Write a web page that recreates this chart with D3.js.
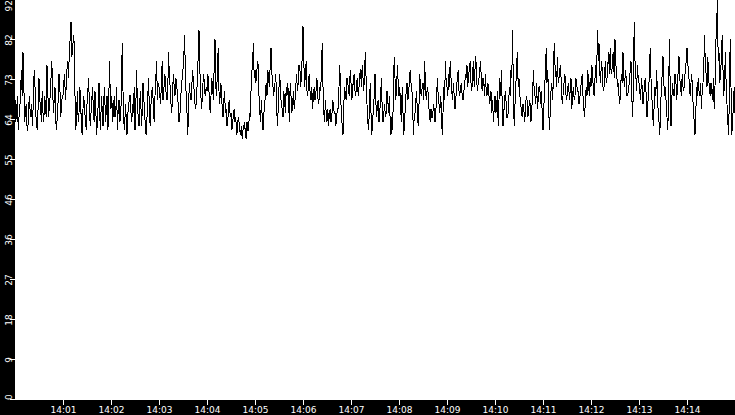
<!DOCTYPE html>
<html>
<head>
<meta charset="utf-8">
<script src="https://cdn.jsdelivr.net/npm/d3@7"></script>
<style>
  html, body { margin: 0; padding: 0; background: #fff; }
  svg { display: block; }
  text { font-family: "DejaVu Sans", sans-serif; font-size: 9px; fill: #fff; }
</style>
</head>
<body>
<script>
const width = 735;
const height = 415;
const margin = { left: 15, bottom: 15 };

// one sample per second, starting 14:00:00
const startTime = new Date(2020, 0, 1, 14, 0, 0);
const stepSeconds = 1;

const values = [
    // 14:00
    69,64,66,70,62,65,67,71,76,70,80,73,64,66,68,63,62,67,70,66,65,68,63,70,76,72,66,63,62,68,
    74,69,67,64,71,66,64,70,68,65,77,71,65,68,70,74,78,72,66,69,72,64,62,66,69,75,73,65,67,70,
    // 14:01
    70,73,75,69,72,76,78,74,81,83,87,79,80,84,82,70,62,66,71,64,66,72,69,63,61,67,70,66,65,62,
    68,71,74,68,63,66,69,72,66,64,71,67,61,64,68,73,65,62,70,67,63,69,72,64,66,70,62,65,78,71,
    // 14:02
    67,70,64,66,70,65,66,72,62,67,69,64,65,70,82,71,64,62,68,65,61,66,67,70,70,66,64,68,66,72,
    62,67,76,68,65,63,69,71,63,66,73,69,67,62,61,65,70,74,66,63,68,71,72,67,64,70,74,78,69,73,
    // 14:03
    72,70,68,73,78,69,71,75,74,70,69,72,80,74,72,68,66,71,75,72,70,74,73,70,68,64,65,69,72,74,
    76,79,84,75,70,66,61,68,73,70,69,72,76,73,71,68,67,70,74,79,85,76,72,67,69,73,75,71,70,72,
    // 14:04
    71,75,73,69,66,70,74,72,69,77,83,72,70,76,81,71,68,73,72,67,65,69,71,66,67,63,64,68,69,65,
    66,62,63,66,67,64,65,61,62,65,64,62,61,63,60,62,63,64,61,60,64,62,62,66,65,71,75,78,82,74,
    // 14:05
    76,73,74,78,77,70,66,64,69,65,62,66,67,71,73,70,76,74,72,77,81,75,74,70,71,73,75,68,63,67,
    72,75,70,68,67,65,71,69,66,72,70,73,68,64,73,70,66,68,71,67,69,72,75,71,73,77,77,72,74,79,
    // 14:06
    86,78,72,75,78,71,70,74,75,70,69,72,67,70,72,69,70,74,73,68,69,72,71,75,82,72,66,64,69,66,
    64,67,63,66,67,64,65,69,68,66,66,63,65,67,67,72,77,70,66,63,61,68,72,70,69,74,73,71,70,76,
    // 14:07
    73,69,71,74,75,71,70,73,74,70,72,75,76,72,77,74,71,76,80,73,68,64,62,67,73,66,61,64,67,70,
    75,69,65,68,69,64,66,70,74,67,64,66,68,65,66,71,69,66,70,64,61,65,62,70,79,74,69,72,77,73,
    // 14:08
    70,72,67,64,72,66,61,64,68,71,73,69,70,74,76,73,72,68,61,65,66,69,71,66,63,68,75,71,70,72,
    73,69,78,73,69,71,72,68,66,64,67,65,65,68,67,64,66,70,74,70,68,66,70,67,61,66,72,69,78,73,
    // 14:09
    72,70,75,72,78,74,71,69,73,70,67,69,72,74,76,71,70,72,73,70,69,71,72,75,74,77,72,75,76,78,
    73,71,75,78,72,76,79,74,71,73,74,76,78,73,71,74,73,70,75,71,70,73,72,68,69,71,66,69,64,67,
    // 14:10
    70,66,67,71,63,69,74,70,76,68,63,66,69,71,68,65,65,68,72,70,76,74,85,70,63,68,72,77,80,72,
    74,70,69,66,65,68,67,64,66,70,69,65,66,69,68,64,67,70,76,71,70,68,73,67,69,72,72,68,71,66,
    // 14:11
    62,67,72,75,81,73,76,68,62,66,71,73,69,74,82,77,75,72,79,73,74,76,77,72,68,70,72,75,74,69,
    70,72,73,69,71,74,67,70,72,69,70,74,73,71,71,68,69,72,73,75,70,67,65,69,72,70,76,72,70,74,
    // 14:12
    72,77,75,71,70,74,77,73,85,78,82,75,73,78,76,72,71,75,78,73,74,77,80,75,81,76,75,79,80,74,
    83,77,76,72,73,70,68,72,75,73,80,74,72,76,74,70,70,72,73,76,78,70,65,72,87,78,75,71,77,74,
    // 14:13
    73,71,69,74,72,68,70,73,74,70,65,68,71,75,81,74,70,66,63,68,72,70,76,71,66,64,61,67,72,75,
    79,73,70,72,68,65,62,70,83,72,63,69,73,70,70,75,74,69,71,76,79,74,72,70,75,72,71,74,76,78,
    // 14:14
    81,77,76,72,70,73,75,70,67,64,61,66,72,70,74,71,70,73,67,71,73,77,84,76,75,72,79,74,72,70,
    73,71,69,74,67,72,82,86,92,78,80,73,75,79,84,76,70,74,80,72,68,64,61,70,83,72,61,64,68,72,
    // 14:15
    66
];

const xTickLabels = ["14:01", "14:02", "14:03", "14:04", "14:05", "14:06", "14:07",
    "14:08", "14:09", "14:10", "14:11", "14:12", "14:13", "14:14"];
const yTickLabels = ["0", "9", "18", "27", "36", "46", "55", "64", "73", "82", "92"];

const data = values.map((v, i) => ({
    time: new Date(startTime.getTime() + i * stepSeconds * 1000),
    value: v
}));

const svg = d3.select("body")
    .append("svg")
    .attr("width", width)
    .attr("height", height);

// black frame bands for the axes
svg.append("rect")
    .attr("x", 0).attr("y", 0)
    .attr("width", margin.left).attr("height", height)
    .attr("fill", "#000");
svg.append("rect")
    .attr("x", 0).attr("y", height - margin.bottom)
    .attr("width", width).attr("height", margin.bottom)
    .attr("fill", "#000");

const x = d3.scaleTime()
    .domain([startTime, data[data.length - 1].time])
    .range([margin.left, width]);

const yMax = d3.max(values);
const y = d3.scaleLinear()
    .domain([0, yMax])
    .range([height - margin.bottom, 0]);

const parseHM = d3.timeParse("%H:%M");
const xTicks = xTickLabels.map(s => {
    const t = parseHM(s);
    return new Date(2020, 0, 1, t.getHours(), t.getMinutes(), 0);
});

// x axis
const xAxis = d3.axisBottom(x)
    .tickValues(xTicks)
    .tickFormat(d3.timeFormat("%H:%M"))
    .tickSize(5)
    .tickPadding(2);

const gx = svg.append("g")
    .attr("transform", `translate(0,${height - margin.bottom})`)
    .call(xAxis);
gx.select(".domain").remove();
gx.selectAll(".tick line").attr("stroke", "#fff").attr("shape-rendering", "crispEdges");
gx.selectAll(".tick text").attr("fill", "#fff").attr("font-size", 9)
    .attr("font-family", "DejaVu Sans, sans-serif");

// y axis
const yTicks = yTickLabels.map((_, i) => yMax * i / (yTickLabels.length - 1));
const gy = svg.append("g");
gy.selectAll("line")
    .data(yTicks)
    .join("line")
    .attr("x1", margin.left - 5)
    .attr("x2", margin.left)
    .attr("y1", d => Math.round(y(d)) - 0.5)
    .attr("y2", d => Math.round(y(d)) - 0.5)
    .attr("stroke", "#fff")
    .attr("shape-rendering", "crispEdges");

gy.selectAll("text")
    .data(yTicks)
    .join("text")
    .attr("transform", (d, i) => {
        const half = yTickLabels[i].length * 2.9;
        const cy = Math.max(half, Math.min(y(d), height - margin.bottom - half));
        return `translate(8.5,${cy}) rotate(-90)`;
    })
    .attr("text-anchor", "middle")
    .attr("dy", "0.35em")
    .text((d, i) => yTickLabels[i]);

// the series
const line = d3.line()
    .x(d => x(d.time))
    .y(d => y(d.value));

svg.append("path")
    .datum(data)
    .attr("d", line)
    .attr("fill", "none")
    .attr("stroke", "#000")
    .attr("stroke-width", 1)
    .attr("shape-rendering", "crispEdges");
</script>
</body>
</html>
